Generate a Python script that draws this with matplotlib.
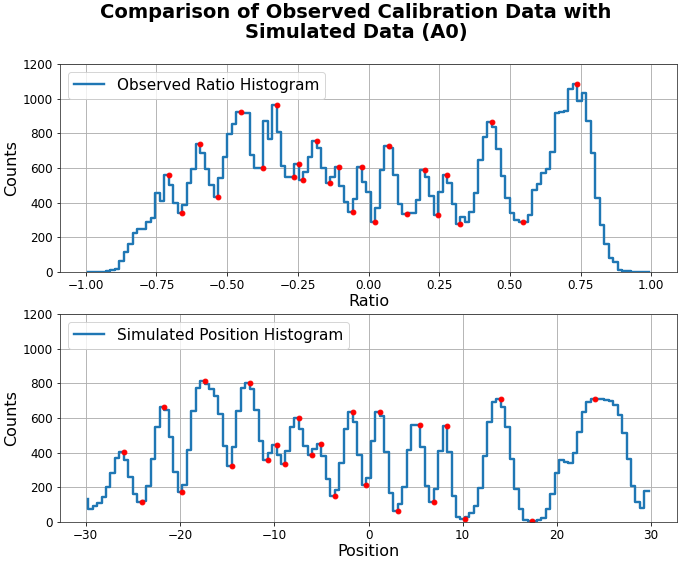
import numpy as np
import matplotlib
matplotlib.use("Agg")
import matplotlib.pyplot as plt

# ---------------- data ----------------
ratio_range = (-1.0, 1.0)
ratio_counts = [0, 0, 0, 0, 2, 4, 10, 15, 63, 117,
                162, 227, 248, 250, 287, 313, 454, 412, 560, 500,
                400, 338, 387, 511, 592, 737, 685, 596, 502, 431,
                540, 662, 798, 852, 921, 915, 915, 675, 598, 598,
                871, 767, 963, 810, 611, 550, 550, 621, 531, 579,
                665, 756, 713, 598, 515, 550, 608, 496, 406, 344,
                419, 604, 521, 463, 288, 371, 588, 727, 713, 560,
                392, 333, 338, 338, 415, 588, 550, 438, 329, 463,
                560, 515, 392, 275, 319, 287, 344, 454, 646, 781,
                863, 838, 711, 554, 429, 338, 300, 287, 287, 329,
                473, 508, 569, 594, 694, 915, 921, 927, 1056, 1085,
                987, 1031, 871, 688, 425, 271, 160, 79, 60, 12,
                6, 8, 0, 2, 2, 2]
ratio_marker_idx = [18, 21, 25, 29, 34, 39, 42, 46, 47, 48, 51, 54, 56, 59,
                    61, 64, 67, 71, 75, 78, 80, 83, 90, 97, 109]

position_range = (-30.0, 30.0)
position_counts = [134, 74, 93, 109, 142, 202, 282, 371, 404, 357,
                   258, 163, 113, 122, 206, 365, 546, 666, 649, 489,
                   287, 173, 216, 414, 643, 775, 812, 798, 769, 726,
                   623, 441, 322, 431, 643, 775, 804, 765, 649, 468,
                   357, 396, 445, 386, 332, 410, 546, 598, 536, 439,
                   384, 419, 449, 381, 250, 151, 183, 342, 536, 637,
                   579, 384, 216, 254, 468, 633, 614, 404, 167, 62,
                   101, 202, 416, 559, 559, 435, 210, 118, 192, 412,
                   556, 404, 148, 28, 20, 31, 54, 93, 196, 381,
                   575, 691, 707, 662, 546, 365, 192, 74, 12, 3,
                   4, 12, 21, 74, 163, 280, 357, 348, 338, 400,
                   522, 637, 691, 711, 711, 707, 705, 697, 676, 618,
                   513, 361, 210, 118, 83, 177]
position_marker_idx = [8, 12, 17, 21, 26, 32, 36, 40, 42, 44, 47, 50, 52, 55,
                       59, 62, 65, 69, 74, 77, 80, 84, 92, 99, 113]

ratio_ticks = [-1.0, -0.75, -0.5, -0.25, 0.0, 0.25, 0.5, 0.75, 1.0]
position_ticks = [-30, -20, -10, 0, 10, 20, 30]
count_ticks = [0, 200, 400, 600, 800, 1000, 1200]


def centers(rng, n):
    edges = np.linspace(rng[0], rng[1], n + 1)
    return 0.5 * (edges[:-1] + edges[1:])


# ---------------- figure ----------------
DPI = 72
fig = plt.figure(figsize=(685 / DPI, 564 / DPI), dpi=DPI)

ax1 = fig.add_axes([60 / 685, 1 - 272 / 564, 617 / 685, 208 / 564])
ax2 = fig.add_axes([60 / 685, 1 - 522 / 564, 617 / 685, 208 / 564])

blue = "#1f77b4"

rc = np.array(ratio_counts, dtype=float)
rx = centers(ratio_range, len(rc))
ax1.step(rx, rc, where="pre", color=blue, lw=2.4, label="Observed Ratio Histogram")
ax1.plot(rx[ratio_marker_idx], rc[ratio_marker_idx], "o", color="red", ms=4.8)
ax1.set_xticks(ratio_ticks)
ax1.set_xticklabels([f"{t:.2f}".replace("-", "\u2212") if t != 0 else "0.00" for t in ratio_ticks])
ax1.set_ylim(0, 1200)
ax1.set_yticks(count_ticks)
ax1.set_xlabel("Ratio", fontsize=16, labelpad=2)
ax1.set_ylabel("Counts", fontsize=16)
ax1.legend(loc="upper left", fontsize=15.3)

pc = np.array(position_counts, dtype=float)
px = centers(position_range, len(pc))
ax2.step(px, pc, where="pre", color=blue, lw=2.4, label="Simulated Position Histogram")
ax2.plot(px[position_marker_idx], pc[position_marker_idx], "o", color="red", ms=4.8)
ax2.set_xticks(position_ticks)
ax2.set_ylim(0, 1200)
ax2.set_yticks(count_ticks)
ax2.set_xlabel("Position", fontsize=16, labelpad=2)
ax2.set_ylabel("Counts", fontsize=16)
ax2.legend(loc="upper left", fontsize=15.3)

for ax in (ax1, ax2):
    ax.grid(True, color="#b0b0b0", lw=0.9)
    ax.set_axisbelow(True)
    ax.tick_params(labelsize=12)
    for s in ax.spines.values():
        s.set_color("#333333")

fig.text(356 / 685, 1 - 3 / 564,
         "Comparison of Observed Calibration Data with\nSimulated Data (A0)",
         ha="center", va="top", fontsize=19.5, fontweight="bold", linespacing=1.05)

fig.savefig("out.png", dpi=DPI)
